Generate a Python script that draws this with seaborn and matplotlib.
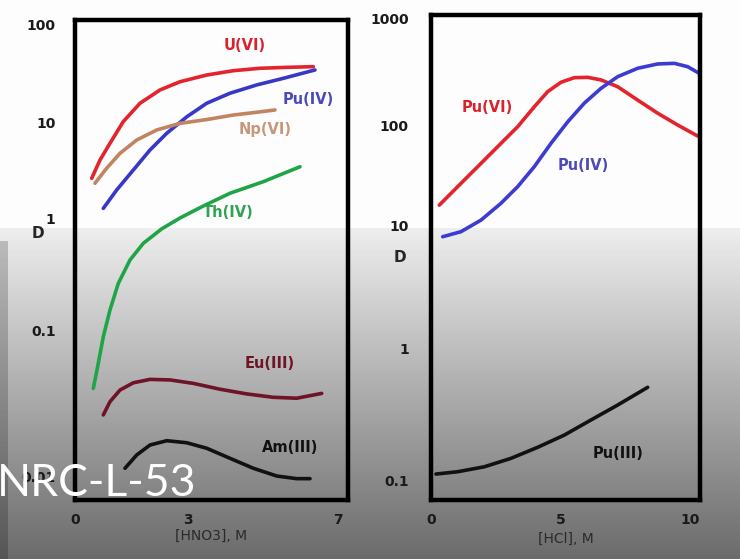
import matplotlib
matplotlib.use("Agg")
import matplotlib.pyplot as plt
import numpy as np
import pandas as pd
import seaborn as sns

# ---- left panel: D vs [HNO3], M ----
hno3_u6 = [0.445, 0.667, 0.933, 1.288, 1.733, 2.267, 2.8, 3.512, 4.221, 4.933, 5.645, 6.355]
d_u6 = [2.59, 4.02, 6.0, 10.1, 15.6, 21.4, 26.0, 30.5, 33.8, 35.8, 36.6, 37.2]
hno3_pu4 = [0.755, 1.112, 1.555, 2.0, 2.445, 2.979, 3.512, 4.133, 4.845, 5.555, 6.4]
d_pu4 = [1.26, 1.96, 3.16, 5.11, 7.62, 11.3, 15.6, 19.8, 24.1, 28.2, 34.4]
hno3_np6 = [0.533, 0.845, 1.2, 1.645, 2.179, 2.8, 3.512, 4.221, 4.845, 5.333]
d_np6 = [2.30, 3.30, 4.72, 6.49, 8.26, 9.68, 10.6, 11.8, 12.6, 13.3]
hno3_th4 = [0.488, 0.621, 0.755, 0.933, 1.155, 1.467, 1.821, 2.312, 2.8, 3.4, 4.133, 5.021, 6.0]
d_th4 = [0.0398, 0.0591, 0.090, 0.151, 0.261, 0.422, 0.594, 0.80, 1.0, 1.32, 1.81, 2.39, 3.42]
hno3_eu3 = [0.755, 0.933, 1.2, 1.555, 2.0, 2.533, 3.155, 3.867, 4.579, 5.288, 5.912, 6.579]
d_eu3 = [0.0262, 0.0323, 0.0388, 0.0435, 0.0459, 0.0455, 0.0431, 0.0393, 0.0365, 0.0346, 0.0341, 0.0368]
hno3_am3 = [1.333, 1.645, 2.0, 2.445, 2.979, 3.512, 4.133, 4.755, 5.379, 5.912, 6.267]
d_am3 = [0.0113, 0.01393, 0.0163, 0.01745, 0.0169, 0.01549, 0.01322, 0.0113, 0.0100, 0.00959, 0.00959]

# ---- right panel: D vs [HCl], M ----
hcl_pu6 = [0.32, 1.032, 1.805, 2.578, 3.351, 3.993, 4.511, 5.025, 5.539, 6.057, 6.571,
           7.217, 7.99, 8.763, 9.536, 10.31]
d_pu6 = [15.8, 24.2, 38.3, 60.7, 96.2, 148, 205, 251, 277, 279, 264, 228, 171, 129, 100, 77.6]
hcl_pu4 = [0.452, 1.16, 1.933, 2.706, 3.351, 3.993, 4.639, 5.284, 5.926, 6.571, 7.217,
           7.99, 8.763, 9.405, 9.923, 10.37]
d_pu4_hcl = [8.03, 8.83, 11.2, 16.5, 24.2, 38.3, 65.6, 107, 160, 220, 283, 339, 372, 377, 351, 304]
hcl_pu3 = [0.193, 1.032, 2.061, 3.092, 4.124, 5.153, 6.184, 7.217, 8.377]
d_pu3 = [0.111, 0.1156, 0.126, 0.146, 0.177, 0.219, 0.285, 0.370, 0.504]

left_ticks = [0.01, 0.1, 1, 10, 100]
left_ticklabels = ["0.01", "0.1", "1", "10", "100"]
right_ticks = [0.1, 1, 10, 100, 1000]
right_ticklabels = ["0.1", "1", "10", "100", "1000"]

W, H = 740, 559

left_df = pd.concat([
    pd.DataFrame({"x": hno3_u6, "D": d_u6, "species": "U(VI)"}),
    pd.DataFrame({"x": hno3_pu4, "D": d_pu4, "species": "Pu(IV)"}),
    pd.DataFrame({"x": hno3_np6, "D": d_np6, "species": "Np(VI)"}),
    pd.DataFrame({"x": hno3_th4, "D": d_th4, "species": "Th(IV)"}),
    pd.DataFrame({"x": hno3_eu3, "D": d_eu3, "species": "Eu(III)"}),
    pd.DataFrame({"x": hno3_am3, "D": d_am3, "species": "Am(III)"}),
], ignore_index=True)
right_df = pd.concat([
    pd.DataFrame({"x": hcl_pu6, "D": d_pu6, "species": "Pu(VI)"}),
    pd.DataFrame({"x": hcl_pu4, "D": d_pu4_hcl, "species": "Pu(IV)"}),
    pd.DataFrame({"x": hcl_pu3, "D": d_pu3, "species": "Pu(III)"}),
], ignore_index=True)

left_colors = {"U(VI)": "#e3242d", "Pu(IV)": "#3838c8", "Np(VI)": "#c08560",
               "Th(IV)": "#1fa548", "Eu(III)": "#6e1426", "Am(III)": "#111111"}
right_colors = {"Pu(VI)": "#e3242d", "Pu(IV)": "#3c3cd0", "Pu(III)": "#111111"}


def piecewise_log(log_knots, pix_knots):
    # hand-drawn axis: decades are not equally spaced
    lk = np.asarray(log_knots, float)
    pk = -np.asarray(pix_knots, float)

    def fwd(v):
        v = np.asarray(v, float)
        with np.errstate(divide="ignore", invalid="ignore"):
            lv = np.log10(np.clip(v, 1e-30, None))
        return np.interp(lv, lk, pk)

    def inv(p):
        return 10 ** np.interp(np.asarray(p, float), pk, lk)

    return fwd, inv


sns.set_style("white")
plt.rcParams["font.family"] = ["DejaVu Sans"]

fig = plt.figure(figsize=(7.4, 5.59), dpi=100)

# slide background: white top, grey fade at the bottom
yy = np.arange(H)[:, None]
xx = np.arange(W)[None, :]
grad = np.where(yy < 228, 0.99, 0.93 - (yy - 228) * 0.00155) * np.ones((1, W))
grad = np.where((xx < 8) & (yy > 240), grad * 0.8, grad)
ax_bg = fig.add_axes([0, 0, 1, 1])
ax_bg.imshow(grad, cmap="gray", vmin=0, vmax=1, aspect="auto", extent=(0, W, H, 0))
ax_bg.set_axis_off()
ax_bg.set_zorder(-5)

ax1 = fig.add_axes([75 / W, 1 - 500 / H, 273 / W, 480 / H])
ax2 = fig.add_axes([431 / W, 1 - 500 / H, 269 / W, 485 / H])

sns.lineplot(data=left_df, x="x", y="D", hue="species", palette=left_colors,
             estimator=None, sort=False, linewidth=2.6, legend=False, ax=ax1)
sns.lineplot(data=right_df, x="x", y="D", hue="species", palette=right_colors,
             estimator=None, sort=False, linewidth=2.6, legend=False, ax=ax2)
for ax in (ax1, ax2):
    for ln in ax.get_lines():
        ln.set_solid_capstyle("round")
        ln.set_solid_joinstyle("round")

ax1.set_yscale("function", functions=piecewise_log(
    [-5, -2, -1, 0, 1, 2, 5], [914, 476, 330, 218, 122, 25, -266]))
ax2.set_yscale("function", functions=piecewise_log(
    [-4, -1, 0, 1, 2, 3, 6], [876, 480, 348, 225, 125, 18, -303]))

ax1.set_xlim(0, 7.28)
ax1.set_ylim(0.00685, 112.6)
ax2.set_xlim(0, 10.4)
ax2.set_ylim(0.0706, 1067)

ax1.set_xticks([0, 3, 7])
ax2.set_xticks([0, 5, 10])
ax1.set_yticks(left_ticks, left_ticklabels)
ax2.set_yticks(right_ticks, right_ticklabels)
ax1.minorticks_off()
ax2.minorticks_off()

for ax, ypad in ((ax1, 14), (ax2, 16)):
    ax.set_facecolor("none")
    for s in ax.spines.values():
        s.set_visible(True)
        s.set_color("black")
        s.set_linewidth(3.2)
    ax.tick_params(axis="both", length=0, labelsize=10, colors="#1a1a1a")
    ax.tick_params(axis="y", pad=ypad)
    ax.tick_params(axis="x", pad=9)
    for lab in ax.get_xticklabels() + ax.get_yticklabels():
        lab.set_fontweight("bold")
    ax.set_ylabel("")

ax1.set_xlabel("[HNO3], M", fontsize=10, color="#2a2a2a", labelpad=2)
ax2.set_xlabel("[HCl], M", fontsize=10, color="#2a2a2a", labelpad=4)

# curve labels
lab_kw = dict(fontsize=10.5, fontweight="bold", ha="center", va="center")
ax1.text(4.53, 62, "U(VI)", color="#d8222c", **lab_kw)
ax1.text(6.21, 16.9, "Pu(IV)", color="#4a4ab8", **lab_kw)
ax1.text(5.07, 8.3, "Np(VI)", color="#c8967a", **lab_kw)
ax1.text(4.08, 1.13, "Th(IV)", color="#2ea352", **lab_kw)
ax1.text(5.2, 0.0594, "Eu(III)", color="#6e1426", **lab_kw)
ax1.text(5.73, 0.01556, "Am(III)", color="#111111", **lab_kw)
ax2.text(2.16, 147, "Pu(VI)", color="#d8222c", **lab_kw)
ax2.text(5.88, 39.8, "Pu(IV)", color="#4a4ab8", **lab_kw)
ax2.text(7.23, 0.16, "Pu(III)", color="#111111", **lab_kw)

fig.text(38 / W, 1 - 233 / H, "D", fontsize=11, fontweight="bold", ha="center", va="center")
fig.text(400 / W, 1 - 257 / H, "D", fontsize=11, fontweight="bold", ha="center", va="center")

# watermark
fig.text(-3 / W, 1 - 496 / H, "NRC-L-53", color="white", fontsize=32,
         family=["Lato", "DejaVu Sans"], fontweight="normal", ha="left", va="baseline", zorder=10)

fig.savefig("out.png", dpi=100)
plt.close(fig)
